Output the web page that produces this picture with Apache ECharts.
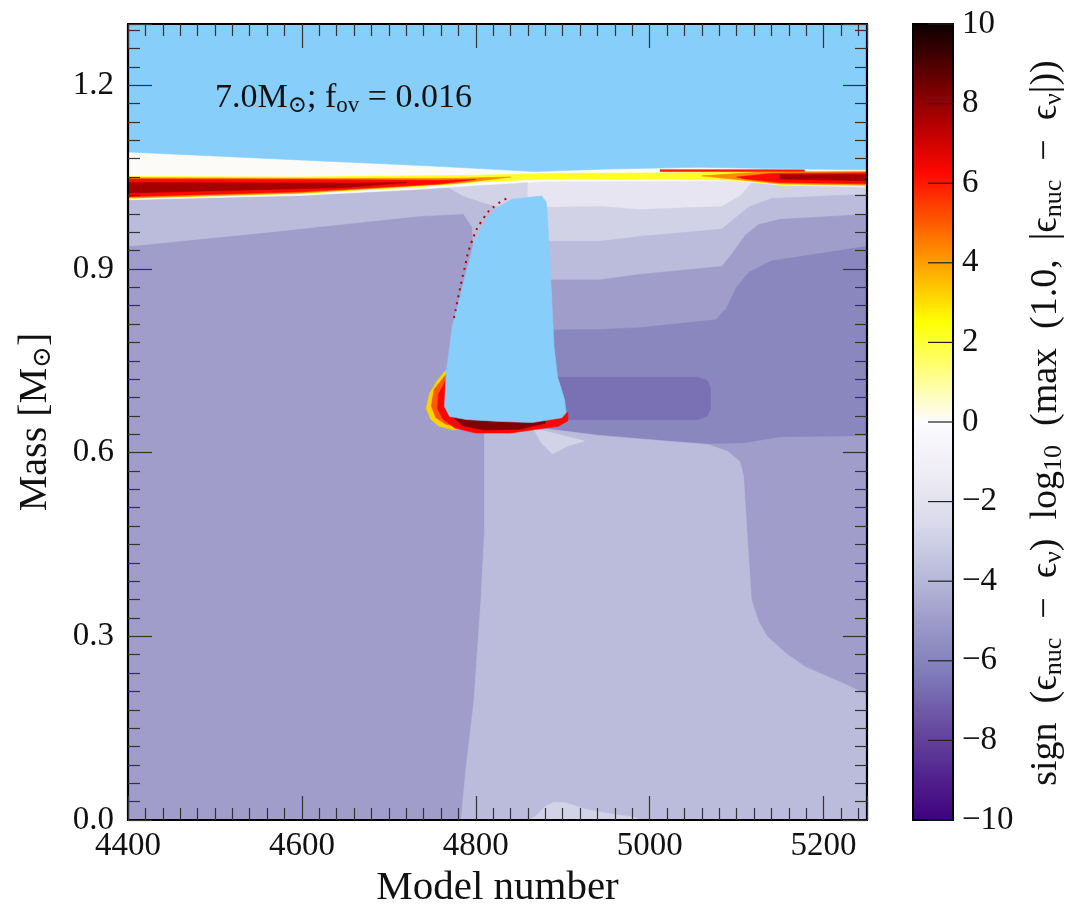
<!DOCTYPE html>
<html>
<head>
<meta charset="utf-8">
<script src="https://cdn.jsdelivr.net/npm/echarts/dist/echarts.min.js"></script>
<style>
  html, body { margin: 0; padding: 0; background: #fff; }
  #chart { width: 1066px; height: 913px; }
</style>
</head>
<body>
<div id="chart"></div>
<script>
// colour scale: Purples (−10 … 0) then hot_r (0 … 10), equally spaced stops
const cmapColors = ['#3f007d', '#54278f', '#6a51a3', '#807dba', '#9e9ac8', '#bcbddc', '#dadaeb', '#efedf5', '#fcfbfd',
                    '#ffff82', '#ffff04', '#ffae00', '#ff5a00', '#ff0700', '#b20000', '#5e0000', '#0b0000'];

// contour regions, [model number, mass]
const background = [[4400, 0], [5250, 0], [5250, 1.3], [4400, 1.3]];
const upperLeft = [[4400, 1.04], [4875, 1.04], [4875, 0.95], [4800, 0.87], [4790, 0.875], [4798, 0.915], [4796, 0.968],
                   [4786, 0.990], [4732, 0.986], [4561, 0.960], [4400, 0.937]];
const topLeftPale = [[4760, 1.04], [4875, 1.04], [4860, 1.0], [4830, 1.0], [4805, 1.01], [4785, 1.02]];
const rightBand1 = [[4860, 1.045], [5250, 1.045], [5250, 0.63], [4860, 0.63]];
const rightBand2 = [[4860, 1.0], [4942, 1.002], [4988, 0.997], [5083, 1.002], [5105, 1.02], [5120, 1.045], [5250, 1.045],
                    [5250, 0.63], [4860, 0.63]];
const rightBand3 = [[4860, 0.945], [4942, 0.945], [4988, 0.953], [5083, 0.965], [5100, 0.985], [5114, 1.001], [5140, 1.015],
                    [5250, 1.022], [5250, 0.63], [4860, 0.63]];
const rightBand4 = [[4860, 0.882], [4942, 0.882], [4988, 0.891], [5083, 0.904], [5095, 0.925], [5110, 0.955], [5125, 0.972],
                    [5150, 0.981], [5250, 0.989], [5250, 0.63], [4860, 0.63]];
const rightBand5 = [[4860, 0.80], [4942, 0.801], [4988, 0.804], [5076, 0.817], [5088, 0.835], [5100, 0.87], [5114, 0.894],
                    [5140, 0.913], [5200, 0.926], [5250, 0.937], [5250, 0.628], [5150, 0.626], [5108, 0.616], [5068, 0.615],
                    [4942, 0.626], [4860, 0.633]];
const darkPocket = [[4860, 0.723], [5055, 0.723], [5066, 0.718], [5070, 0.706], [5070, 0.671], [5066, 0.660], [5055, 0.654],
                    [4860, 0.654]];
const lowerCore = [[4810, 0.646], [4869, 0.641], [4942, 0.628], [5068, 0.613], [5090, 0.602], [5104, 0.585], [5108, 0.561],
                   [5112, 0.469], [5117, 0.360], [5125, 0.325], [5135, 0.300], [5156, 0.273], [5179, 0.250], [5215, 0.228],
                   [5250, 0.205], [5250, 0], [4783, 0], [4789, 0.087], [4798, 0.196], [4806, 0.360], [4810, 0.469]];
const palePatchTop = [[4866, 0.640], [4925, 0.619], [4906, 0.611], [4888, 0.598], [4876, 0.615]];
const palePatchBottom = [[4862, 0], [4869, 0.006], [4880, 0.022], [4890, 0.029], [4904, 0.028], [4925, 0.018], [4950, 0.011],
                         [4980, 0.005], [4990, 0]];
const shellWhite = [[4400, 1.12], [5250, 1.12], [5250, 1.034], [5150, 1.037], [5100, 1.044], [4880, 1.043], [4804, 1.037],
                    [4735, 1.030], [4597, 1.020], [4400, 1.013]];
const shellYellow = [[4400, 1.051], [4597, 1.050], [4804, 1.053], [4880, 1.056], [5057, 1.057], [5125, 1.059], [5250, 1.060],
                     [5250, 1.036], [5150, 1.038], [5100, 1.045], [5057, 1.046], [4880, 1.047], [4804, 1.042], [4735, 1.034],
                     [4597, 1.023], [4400, 1.015]];
const shellOrangeL = [[4400, 1.049], [4600, 1.048], [4780, 1.048], [4840, 1.050], [4780, 1.040], [4600, 1.024], [4400, 1.016]];
const shellOrangeR = [[5060, 1.052], [5125, 1.058], [5250, 1.059], [5250, 1.037], [5150, 1.039], [5100, 1.046]];
const shellRedL = [[4400, 1.047], [4600, 1.046], [4760, 1.045], [4800, 1.046], [4760, 1.039], [4600, 1.026], [4400, 1.018]];
const shellRedR = [[5100, 1.050], [5140, 1.056], [5250, 1.057], [5250, 1.039], [5150, 1.041], [5110, 1.047]];
const shellDarkL = [[4400, 1.041], [4650, 1.040], [4720, 1.041], [4650, 1.033], [4400, 1.024]];
const shellDarkR = [[5150, 1.054], [5250, 1.054], [5250, 1.044], [5150, 1.047]];
const shellThin = [[5012, 1.062], [5178, 1.062], [5178, 1.059], [5012, 1.059]];
const ringYellow = [[4766, 0.735], [4756, 0.718], [4747, 0.697], [4743, 0.672], [4748, 0.655], [4758, 0.643], [4775, 0.637],
                    [4793, 0.640], [4790, 0.66], [4766, 0.70]];
const ringOrange = [[4766, 0.728], [4752, 0.703], [4749, 0.676], [4754, 0.657], [4766, 0.646], [4790, 0.641], [4790, 0.66],
                    [4766, 0.70]];
const ringRed = [[4766, 0.72], [4757, 0.695], [4756, 0.672], [4762, 0.655], [4776, 0.640], [4800, 0.632], [4840, 0.632],
                 [4870, 0.638], [4895, 0.643], [4906, 0.652], [4906, 0.665], [4800, 0.665]];
const ringDark = [[4772, 0.66], [4785, 0.644], [4810, 0.637], [4850, 0.638], [4880, 0.648], [4880, 0.66]];

// level of each region, same order as drawn
const fieldRegions = [
  [background, -4.9], [upperLeft, -3.8], [topLeftPale, -2.8],
  [rightBand1, -1.8], [rightBand2, -2.84], [rightBand3, -3.8], [rightBand4, -4.9], [rightBand5, -5.83], [darkPocket, -6.6],
  [lowerCore, -3.8], [palePatchTop, -2.8], [palePatchBottom, -2.8],
  [shellWhite, 0.05], [shellYellow, 2.2], [shellOrangeL, 4.3], [shellOrangeR, 4.3], [shellRedL, 6.2], [shellRedR, 6.2],
  [shellDarkL, 7.7], [shellDarkR, 7.7], [shellThin, 6.0],
  [ringYellow, 3.2], [ringOrange, 5.0], [ringRed, 6.3], [ringDark, 8.2]
];

// convective zones (drawn in light sky blue)
const envelope = [[4400, 1.301], [5250, 1.301], [5250, 1.062], [5180, 1.063], [5140, 1.064], [5057, 1.066], [4950, 1.063],
                  [4869, 1.059], [4750, 1.068], [4597, 1.078], [4400, 1.091]];
const coreZone = [[4842, 1.014], [4876, 1.019], [4881, 1.009], [4882, 0.997], [4887, 0.862], [4890, 0.773], [4894, 0.724],
                  [4902, 0.687], [4904, 0.665], [4899, 0.657], [4865, 0.649], [4827, 0.651], [4789, 0.654], [4770, 0.659],
                  [4764, 0.675], [4766, 0.731], [4770, 0.773], [4773, 0.806], [4779, 0.839], [4789, 0.894], [4798, 0.943],
                  [4812, 0.981], [4827, 1.002]];
const convZones = [envelope, coreZone];

// burning front along the left side of the core zone
const edgeModel = [4775, 4780, 4786, 4795, 4809, 4824, 4840];
const edgeMass = [0.82, 0.855, 0.894, 0.943, 0.983, 1.005, 1.018];

const colorbarTicks = [-10, -8, -6, -4, -2, 0, 2, 4, 6, 8, 10];

const serif = '"Liberation Serif", "DejaVu Serif", serif';
const chart = echarts.init(document.getElementById('chart'));

function polygonItem(shape, api, fill) {
  return {
    type: 'polygon',
    shape: { points: shape.map(p => api.coord(p)) },
    style: { fill: fill, stroke: fill, lineWidth: 0.6 }
  };
}

function frameAxis(extra) {
  return Object.assign({
    type: 'value', z: 10,
    axisLine: { show: true, onZero: false, lineStyle: { color: '#000', width: 2.2 } },
    axisTick: { show: true, inside: true, length: 24, lineStyle: { color: '#333', width: 1.2 } },
    minorTick: { show: true, splitNumber: 10, length: 12, lineStyle: { color: '#333', width: 1.2 } },
    splitLine: { show: false },
    minorSplitLine: { show: false }
  }, extra);
}

const tickFont = { fontFamily: serif, fontSize: 33, color: '#111' };

// colour bar: gradient box plus inward ticks on its right edge
function renderColorbar(params, api) {
  const a = api.coord([0, 10]);
  const b = api.coord([1, -10]);
  const children = [{
    type: 'rect',
    shape: { x: a[0], y: a[1], width: b[0] - a[0], height: b[1] - a[1] },
    style: {
      fill: {
        type: 'linear', x: 0, y: 1, x2: 0, y2: 0,
        colorStops: cmapColors.map((c, i) => ({ offset: i / (cmapColors.length - 1), color: c }))
      },
      stroke: '#000', lineWidth: 2
    }
  }];
  colorbarTicks.forEach(t => {
    const p = api.coord([1, t]);
    children.push({
      type: 'line',
      shape: { x1: p[0] - 25, y1: p[1], x2: p[0], y2: p[1] },
      style: { stroke: '#222', lineWidth: 1.2 }
    });
  });
  return { type: 'group', children: children };
}

const option = {
  animation: false,
  grid: [
    { left: 128, top: 24, right: 199, bottom: 93, outerBoundsMode: 'none' },
    { left: 913, top: 24, width: 40, height: 796, outerBoundsMode: 'none' }
  ],
  xAxis: [
    frameAxis({
      gridIndex: 0, position: 'bottom', min: 4400, max: 5250, interval: 200,
      axisLabel: Object.assign({ margin: 10, showMaxLabel: false, formatter: v => String(v) }, tickFont),
      name: 'Model number', nameLocation: 'middle', nameGap: 48, nameMoveOverlap: false,
      nameTextStyle: { fontFamily: serif, fontSize: 41, color: '#111' }
    }),
    frameAxis({
      gridIndex: 0, position: 'top', min: 4400, max: 5250, interval: 200,
      axisLabel: { show: false }
    }),
    { type: 'value', gridIndex: 1, min: 0, max: 1, show: false }
  ],
  yAxis: [
    frameAxis({
      gridIndex: 0, position: 'left', min: 0, max: 1.3, interval: 0.3,
      axisLabel: Object.assign({ margin: 14, showMaxLabel: false, formatter: v => v.toFixed(1) }, tickFont),
      name: 'Mass [M{s|\u2299}]', nameLocation: 'middle', nameGap: 72, nameMoveOverlap: false,
      nameTextStyle: {
        fontFamily: serif, fontSize: 40, color: '#111',
        rich: { s: { fontFamily: serif, fontSize: 26, color: '#111', padding: [16, 0, 0, 0] } }
      }
    }),
    frameAxis({
      gridIndex: 0, position: 'right', min: 0, max: 1.3, interval: 0.3,
      axisLabel: { show: false }
    }),
    {
      type: 'value', gridIndex: 1, position: 'right', min: -10, max: 10, interval: 2, z: 10,
      axisLine: { show: false },
      axisTick: { show: false },
      splitLine: { show: false },
      axisLabel: Object.assign({
        margin: 9,
        formatter: v => colorbarTicks.includes(v) ? String(v).replace('-', '\u2212') : ''
      }, tickFont)
    }
  ],
  visualMap: {
    type: 'continuous', show: false, seriesIndex: 0, dimension: 1,
    min: -10, max: 10, inRange: { color: cmapColors }
  },
  series: [
    {
      type: 'custom', name: 'field', xAxisIndex: 0, yAxisIndex: 0, z: 1, silent: true,
      data: fieldRegions.map((r, i) => [i, r[1]]),
      renderItem: (params, api) => polygonItem(fieldRegions[params.dataIndex][0], api, api.visual('color'))
    },
    {
      type: 'custom', name: 'convection', xAxisIndex: 0, yAxisIndex: 0, z: 2, silent: true,
      data: convZones.map((z, i) => [i]),
      renderItem: (params, api) => polygonItem(convZones[params.dataIndex], api, '#87cefa')
    },
    {
      type: 'line', xAxisIndex: 0, yAxisIndex: 0, z: 3, silent: true,
      data: edgeModel.map((m, i) => [m, edgeMass[i]]),
      showSymbol: false, smooth: true,
      lineStyle: { color: '#b40000', width: 2, type: [2, 5] }
    },
    {
      type: 'custom', name: 'colorbar', xAxisIndex: 2, yAxisIndex: 2, silent: true,
      data: [[0, 0]],
      renderItem: renderColorbar
    }
  ],
  graphic: [
    {
      type: 'text', left: 215, top: 81, z: 20,
      style: {
        text: '7.0M{s|\u2299}; f{s|ov} = 0.016',
        fontFamily: serif, fontSize: 34, fill: '#111',
        rich: { s: { fontFamily: serif, fontSize: 23, fill: '#111', padding: [15, 0, 0, 0] } }
      }
    },
    {
      type: 'text', x: 1046, y: 423, rotation: Math.PI / 2, z: 20,
      style: {
        text: 'sign  (\u03f5{s|nuc}  \u2212  \u03f5{s|\u03bd})  log{s|10}  (max  (1.0,  |\u03f5{s|nuc}  \u2212  \u03f5{s|\u03bd}|))',
        fontFamily: serif, fontSize: 38, fill: '#111',
        align: 'center', verticalAlign: 'middle', textAlign: 'center', textVerticalAlign: 'middle',
        rich: { s: { fontFamily: serif, fontSize: 26, fill: '#111', padding: [17, 0, 0, 0] } }
      }
    }
  ]
};

chart.setOption(option);
</script>
</body>
</html>
